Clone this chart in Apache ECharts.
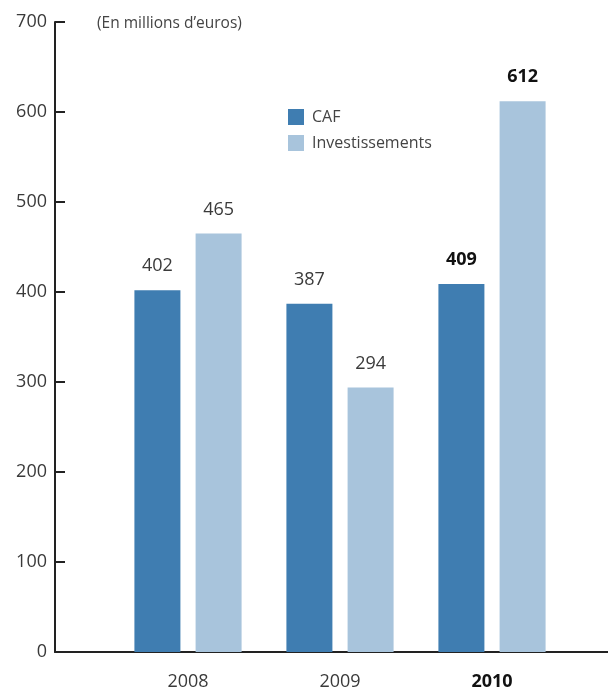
<!DOCTYPE html>
<html>
<head>
<meta charset="utf-8">
<script src="https://cdn.jsdelivr.net/npm/echarts@6/dist/echarts.min.js"></script>
<style>
  html, body { margin: 0; padding: 0; background: #fff; }
  #chart { width: 608px; height: 688px; }
</style>
</head>
<body>
<div id="chart"></div>
<script>
const years = ['2008', '2009', '2010']
const caf = [402, 387, 409]
const invest = [465, 294, 612]
const yTicks = [0, 100, 200, 300, 400, 500, 600, 700]
const boldYear = '2010'

const FONT = '"Open Sans", "Noto Sans", sans-serif'
const chart = echarts.init(document.getElementById('chart'))

function dataWithBold(values) {
  return values.map((v, i) => {
    if (years[i] !== boldYear) return v
    return { value: v, label: { fontWeight: 'bold', color: '#111' } }
  })
}

const barLabel = {
  show: true,
  position: 'top',
  distance: 15,
  fontFamily: FONT,
  fontSize: 18,
  color: '#3a3a3a'
}

chart.setOption({
  animation: false,
  title: {
    text: '(En millions d\u2019euros)',
    left: 92,
    top: 11,
    textStyle: { fontFamily: FONT, fontSize: 15.5, fontWeight: 'normal', color: '#444' }
  },
  legend: {
    orient: 'vertical',
    left: 283,
    top: 104,
    itemWidth: 16,
    itemHeight: 16,
    itemGap: 10,
    icon: 'rect',
    textStyle: { fontFamily: FONT, fontSize: 16, color: '#444', padding: [0, 0, 0, 3] }
  },
  // no auto shrinking for labels, the grid stays where it is set
  grid: [
    { left: 55, right: 0, top: 22, bottom: 36, outerBoundsMode: 'none' },
    { left: 112, right: 40, top: 22, bottom: 36, outerBoundsMode: 'none' }
  ],
  xAxis: [
    {
      gridIndex: 0, type: 'category', data: [''],
      axisLine: { lineStyle: { color: '#222', width: 2 } },
      axisTick: { show: false }, axisLabel: { show: false }
    },
    {
      gridIndex: 1, type: 'category', data: years,
      axisLine: { show: false }, axisTick: { show: false },
      axisLabel: {
        margin: 21,
        fontFamily: FONT,
        fontSize: 18,
        color: '#3a3a3a',
        formatter: v => v === boldYear ? '{b|' + v + '}' : v,
        rich: { b: { fontFamily: FONT, fontSize: 18, fontWeight: 'bold', color: '#111' } }
      }
    }
  ],
  yAxis: [
    {
      gridIndex: 0, type: 'value', min: yTicks[0], max: yTicks[yTicks.length - 1], interval: 100,
      axisLine: { show: true, lineStyle: { color: '#222', width: 2 } },
      axisTick: { show: true, inside: true, length: 10, lineStyle: { color: '#222', width: 2 } },
      splitLine: { show: false },
      axisLabel: { margin: 8, fontFamily: FONT, fontSize: 18, color: '#3a3a3a' }
    },
    {
      gridIndex: 1, type: 'value', min: yTicks[0], max: yTicks[yTicks.length - 1], interval: 100,
      show: false
    }
  ],
  series: [
    {
      name: 'CAF', type: 'bar', xAxisIndex: 1, yAxisIndex: 1,
      data: dataWithBold(caf),
      barWidth: 46, barGap: '33%',
      itemStyle: { color: '#3f7db1' },
      label: barLabel
    },
    {
      name: 'Investissements', type: 'bar', xAxisIndex: 1, yAxisIndex: 1,
      data: dataWithBold(invest),
      barWidth: 46, barGap: '33%',
      itemStyle: { color: '#a8c4dc' },
      label: barLabel
    }
  ]
})
</script>
</body>
</html>
